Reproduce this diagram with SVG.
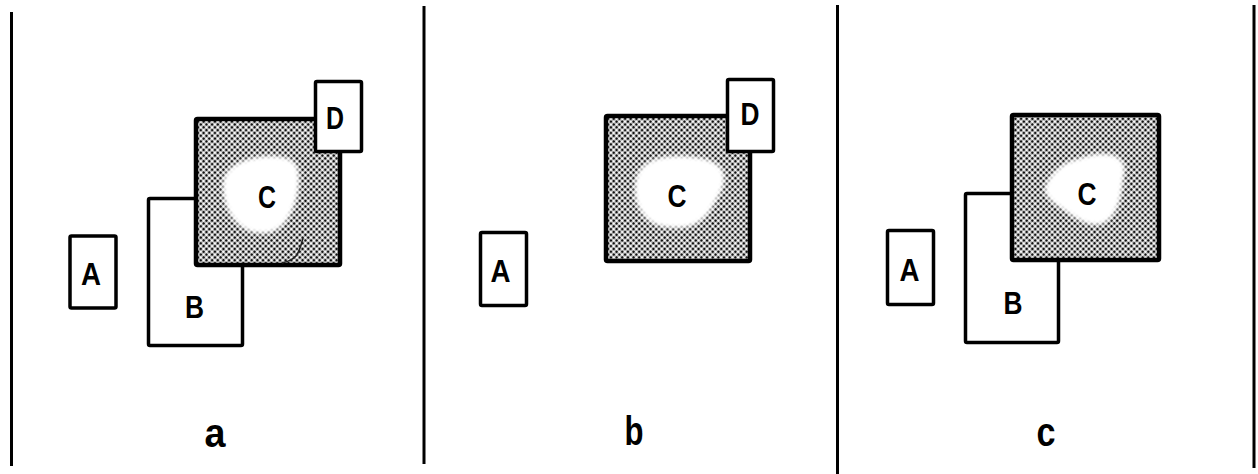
<svg xmlns="http://www.w3.org/2000/svg" width="1258" height="474" viewBox="0 0 1258 474">
  <defs>
    <pattern id="dots" width="4" height="4" patternUnits="userSpaceOnUse" patternTransform="rotate(45)">
      <rect width="4" height="4" fill="#ffffff"/>
      <circle cx="2" cy="2" r="1.5" fill="#111"/>
    </pattern>
    <filter id="soft" x="-20%" y="-20%" width="140%" height="140%">
      <feGaussianBlur stdDeviation="2"/>
    </filter>
  </defs>
  <style>
    .box { fill: #ffffff; stroke: #000; stroke-width: 3.5; stroke-linejoin: round; }
    .shade { fill: url(#dots); stroke: #000; stroke-width: 4.5; stroke-linejoin: round; }
    .blob { fill: #ffffff; filter: url(#soft); }
    .lbl { font-family: "Liberation Sans", Arial, sans-serif; font-weight: bold; font-size: 31px; text-anchor: middle; fill: #000; }
    .cap { font-family: "Liberation Sans", Arial, sans-serif; font-weight: bold; font-size: 40px; text-anchor: middle; fill: #000; }
    .rule { stroke: #000; stroke-width: 3; fill: none; }
  </style>

  <g id="dividers">
    <line class="rule" x1="11.5" y1="12" x2="11.5" y2="466"/>
    <line class="rule" x1="424" y1="6" x2="424" y2="464"/>
    <line class="rule" x1="837.5" y1="5" x2="837.5" y2="474"/>
    <line class="rule" x1="1254" y1="5" x2="1254" y2="468"/>
  </g>

  <g id="connectors"/>

  <!-- Panel a -->
  <g id="a-A">
    <rect class="box" x="70" y="236" width="46" height="72" rx="1.5"/>
    <text class="lbl" x="91" y="285" textLength="20" lengthAdjust="spacingAndGlyphs">A</text>
  </g>
  <g id="a-B">
    <rect class="box" x="148.5" y="198.5" width="94" height="147" rx="1.5"/>
    <text class="lbl" x="194.5" y="318" textLength="19" lengthAdjust="spacingAndGlyphs">B</text>
  </g>
  <g id="a-C">
    <rect class="shade" x="196" y="119" width="144" height="146" rx="1.5"/>
    <path class="blob" d="M223,182 C225,166 244,158 264,156 C284,155 299,158 299,176 C300,194 294,212 284,224 C273,236 256,236 243,228 C230,220 221,200 223,182 Z"/>
    <path d="M303,238 C301,246 299,252 296,256 C292,260 287,262 282,263" fill="none" stroke="#222" stroke-width="1.5"/>
    <text class="lbl" x="267" y="208" textLength="18" lengthAdjust="spacingAndGlyphs">C</text>
  </g>
  <g id="a-D">
    <rect class="box" x="315.5" y="81.5" width="46" height="70" rx="1.5"/>
    <text class="lbl" x="335" y="129" textLength="18" lengthAdjust="spacingAndGlyphs">D</text>
  </g>
  <text class="cap" x="215" y="447" textLength="21" lengthAdjust="spacingAndGlyphs">a</text>

  <!-- Panel b -->
  <g id="b-A">
    <rect class="box" x="480.5" y="232.5" width="46" height="73" rx="1.5"/>
    <text class="lbl" x="500.5" y="282" textLength="20" lengthAdjust="spacingAndGlyphs">A</text>
  </g>
  <g id="b-C">
    <rect class="shade" x="606" y="116" width="144" height="145" rx="1.5"/>
    <path class="blob" d="M635,186 C635,167 650,157 672,156 C694,155 716,158 723,171 C728,185 718,197 712,208 C704,222 691,229 676,228 C661,228 648,224 642,213 C636,205 634,196 635,186 Z"/>
    <text class="lbl" x="677" y="207" textLength="19" lengthAdjust="spacingAndGlyphs">C</text>
  </g>
  <g id="b-D">
    <rect class="box" x="727.5" y="79.5" width="46" height="72" rx="1.5"/>
    <text class="lbl" x="750" y="125" textLength="19" lengthAdjust="spacingAndGlyphs">D</text>
  </g>
  <text class="cap" x="634" y="445" textLength="19" lengthAdjust="spacingAndGlyphs">b</text>

  <!-- Panel c -->
  <g id="c-A">
    <rect class="box" x="887.5" y="230.5" width="46" height="74" rx="1.5"/>
    <text class="lbl" x="909.5" y="281" textLength="20" lengthAdjust="spacingAndGlyphs">A</text>
  </g>
  <g id="c-B">
    <rect class="box" x="965.5" y="193.5" width="93" height="149" rx="1.5"/>
    <text class="lbl" x="1013" y="314" textLength="19" lengthAdjust="spacingAndGlyphs">B</text>
  </g>
  <g id="c-C">
    <rect class="shade" x="1012" y="115" width="147" height="145" rx="1.5"/>
    <path class="blob" d="M1045,187 C1049,175 1060,164 1073,160 C1086,156 1096,152 1109,154 C1122,156 1127,165 1124,176 C1122,187 1122,197 1118,206 C1114,216 1107,225 1096,225 C1085,225 1075,218 1066,212 C1056,205 1043,197 1045,187 Z"/>
    <text class="lbl" x="1087" y="205" textLength="19" lengthAdjust="spacingAndGlyphs">C</text>
  </g>
  <text class="cap" x="1046" y="446" textLength="19" lengthAdjust="spacingAndGlyphs">c</text>
</svg>
